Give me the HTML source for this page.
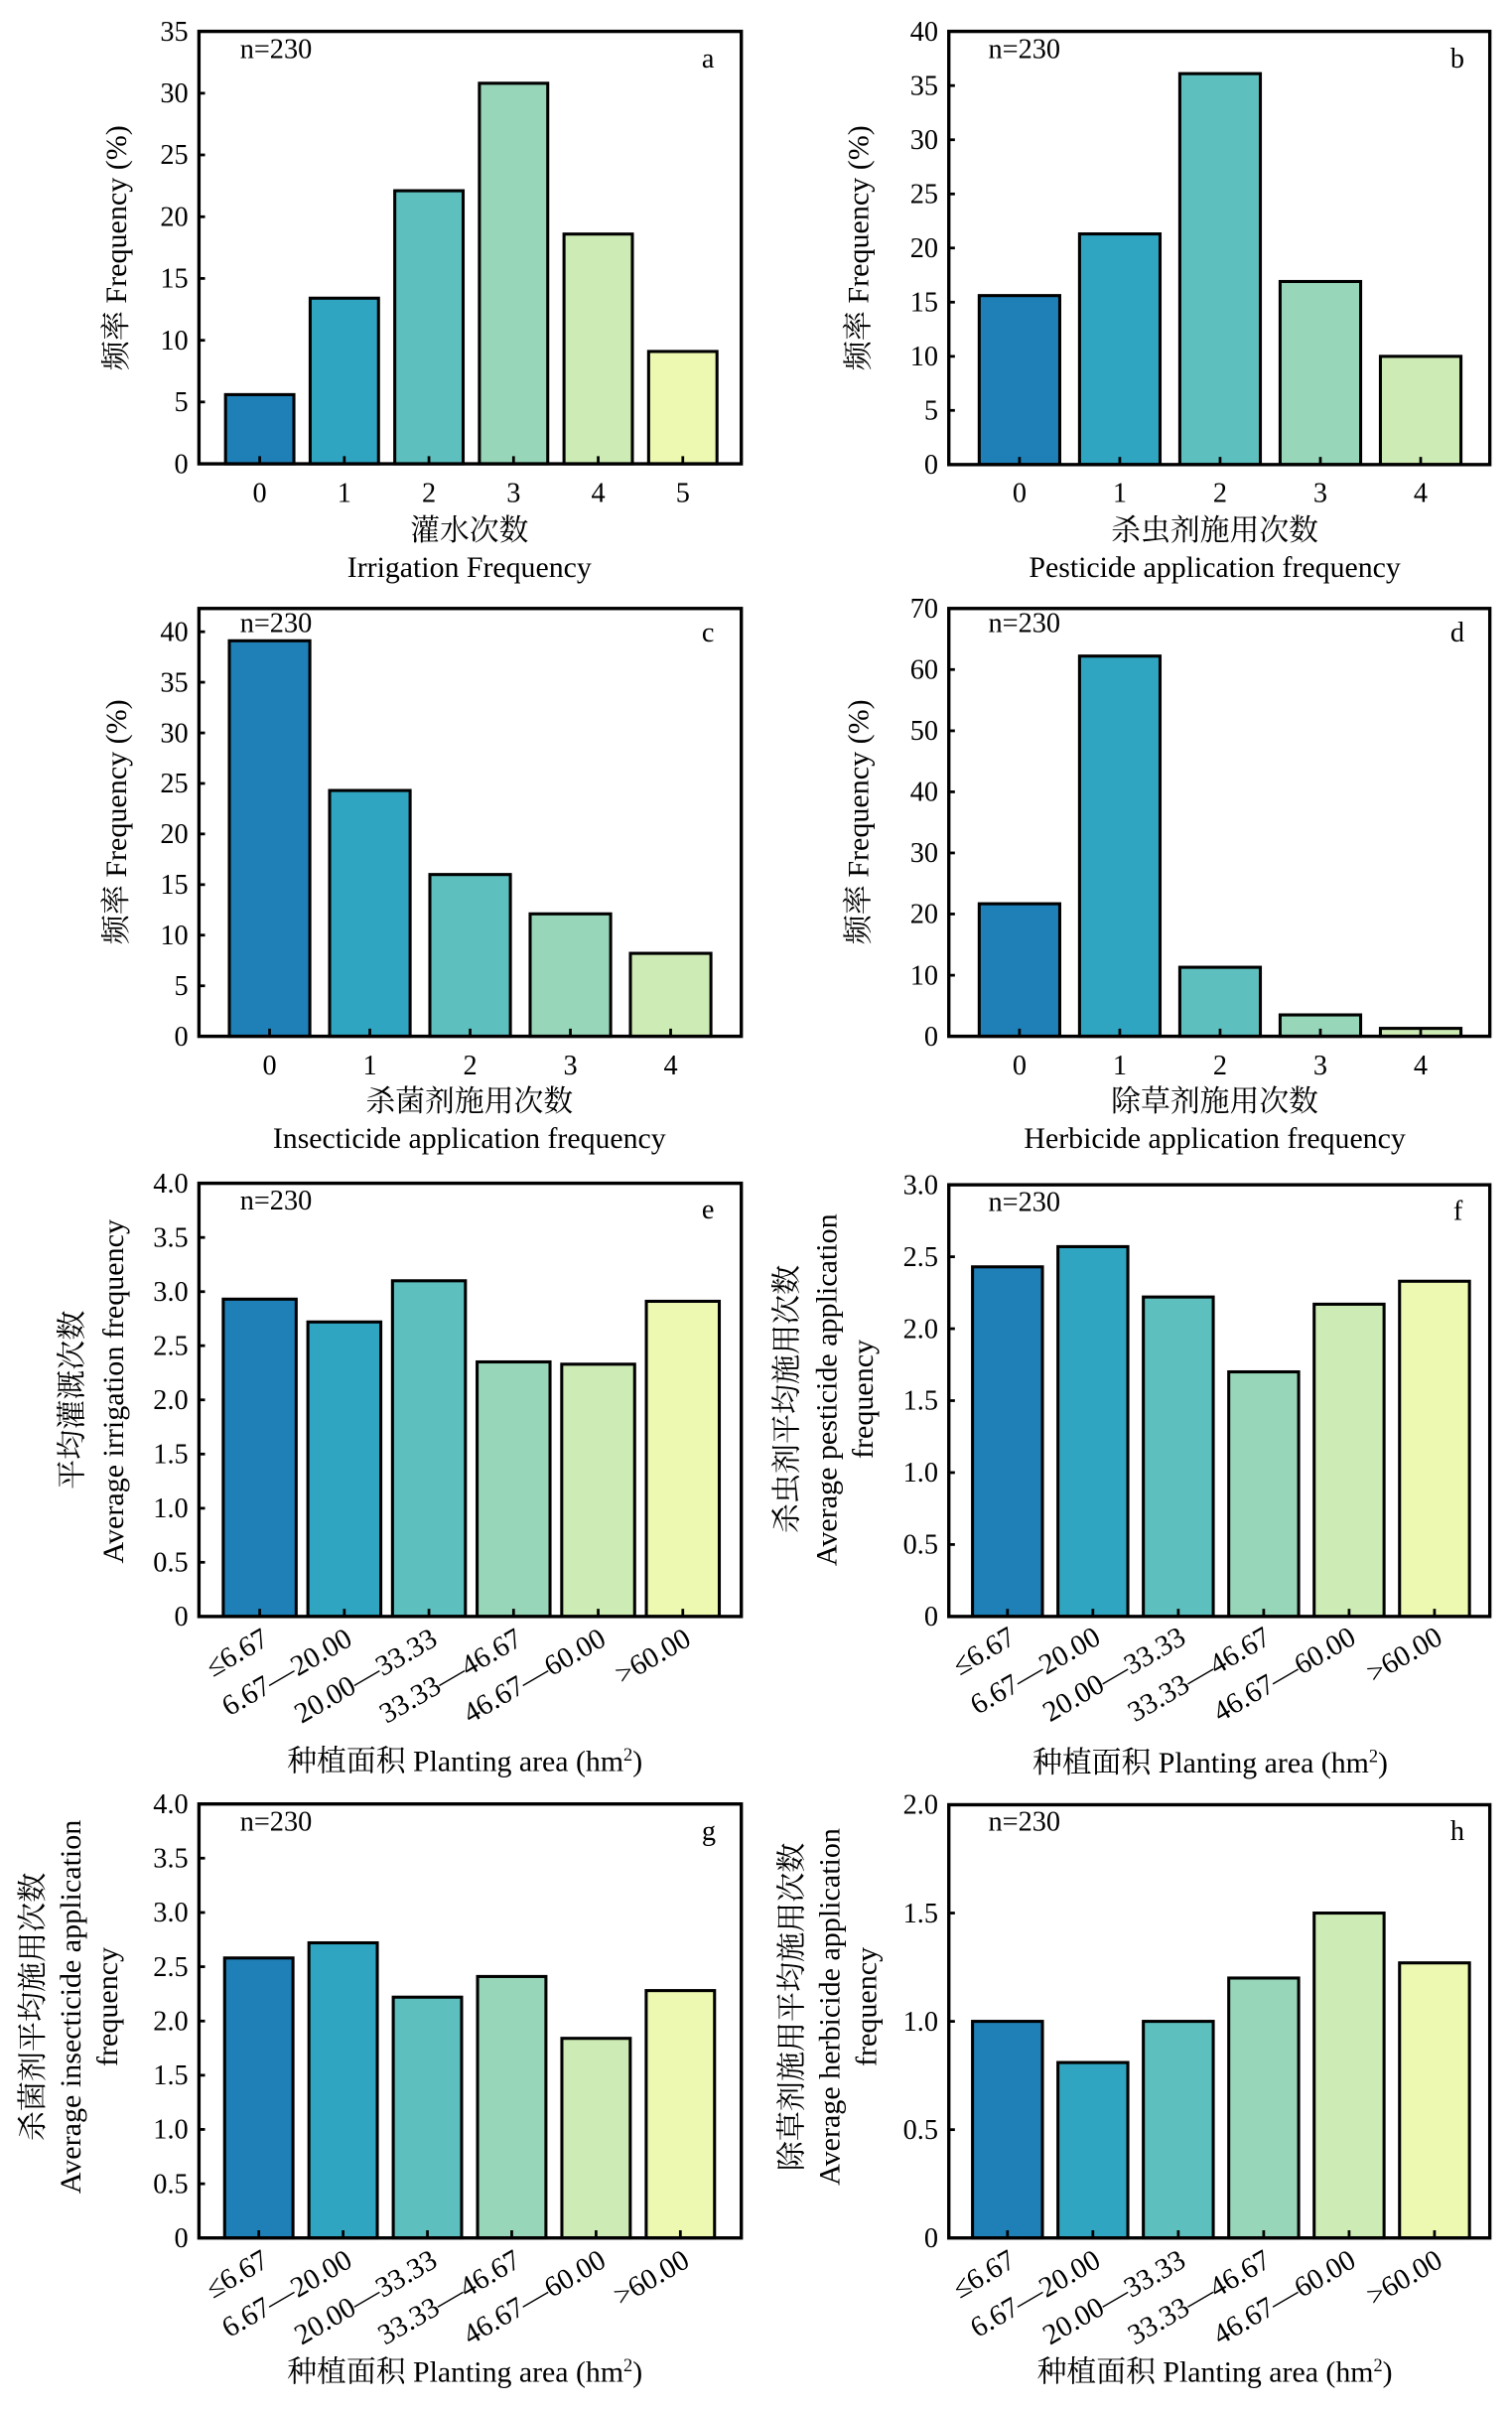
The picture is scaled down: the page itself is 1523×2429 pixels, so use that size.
<!DOCTYPE html>
<html><head><meta charset="utf-8"><style>
html,body{margin:0;padding:0;background:#fff;}
svg{display:block;}
text{font-family:"Liberation Serif","Noto Serif CJK SC","Noto Sans CJK SC",serif;fill:#000;}
.t{font-size:18.5px;}
.yt{font-size:18.5px;text-anchor:end;}
.xt{font-size:18.5px;text-anchor:middle;}
.rt{font-size:19px;text-anchor:end;}
.lb{font-size:19.5px;text-anchor:middle;}
.ax{fill:none;stroke:#000;stroke-width:2.2;}
.tk{stroke:#000;stroke-width:1.8;}
.b{stroke:#000;stroke-width:2;}
.c0{fill:#1f80b8}.c1{fill:#2fa5c1}.c2{fill:#5dbfbe}.c3{fill:#97d6b8}.c4{fill:#cdebb4}.c5{fill:#edf8b1}
</style></head><body>
<svg width="1523" height="2429" viewBox="0 0 988 1575.7" preserveAspectRatio="none" xmlns="http://www.w3.org/2000/svg">

<!-- Panel a -->
<g transform="translate(130,0) scale(0.9927,1) translate(-130,0)">
<rect class="b c0" x="147.5" y="257.8" width="45" height="45.2"/>
<rect class="b c1" x="203.2" y="194.8" width="45" height="108.2"/>
<rect class="b c2" x="258.9" y="124.6" width="45" height="178.4"/>
<rect class="b c3" x="314.6" y="54.4" width="45" height="248.6"/>
<rect class="b c4" x="370.3" y="152.9" width="45" height="150.1"/>
<rect class="b c5" x="426" y="229.6" width="45" height="73.4"/>
<rect class="ax" x="130" y="20.5" width="357" height="282.5"/>
<g class="tk"><line x1="130" x2="134" y1="262.6" y2="262.6"/><line x1="130" x2="134" y1="222.3" y2="222.3"/><line x1="130" x2="134" y1="181.9" y2="181.9"/><line x1="130" x2="134" y1="141.6" y2="141.6"/><line x1="130" x2="134" y1="101.2" y2="101.2"/><line x1="130" x2="134" y1="60.9" y2="60.9"/>
<line x1="170" x2="170" y1="303" y2="298"/><line x1="225.7" x2="225.7" y1="303" y2="298"/><line x1="281.4" x2="281.4" y1="303" y2="298"/><line x1="337.1" x2="337.1" y1="303" y2="298"/><line x1="392.8" x2="392.8" y1="303" y2="298"/><line x1="448.5" x2="448.5" y1="303" y2="298"/></g>
<text class="yt" x="123" y="309">0</text><text class="yt" x="123" y="268.6">5</text><text class="yt" x="123" y="228.3">10</text><text class="yt" x="123" y="187.9">15</text><text class="yt" x="123" y="147.6">20</text><text class="yt" x="123" y="107.2">25</text><text class="yt" x="123" y="66.9">30</text><text class="yt" x="123" y="26.5">35</text>
<text class="xt" x="170" y="328">0</text><text class="xt" x="225.7" y="328">1</text><text class="xt" x="281.4" y="328">2</text><text class="xt" x="337.1" y="328">3</text><text class="xt" x="392.8" y="328">4</text><text class="xt" x="448.5" y="328">5</text>
<text class="t" x="157" y="38">n=230</text><text class="t" x="461" y="44">a</text>
<text class="lb" x="308" y="353">灌水次数</text><text class="lb" x="308" y="377">Irrigation Frequency</text>
<text class="lb" transform="translate(82,162) rotate(-90)">频率 Frequency (%)</text>
</g>

<!-- Panel b -->
<g transform="translate(620,0) scale(0.993,1) translate(-620,0)">
<rect class="b c0" x="640" y="193.1" width="53" height="110.4"/>
<rect class="b c1" x="706" y="152.8" width="53" height="150.7"/>
<rect class="b c2" x="772" y="48.1" width="53" height="255.4"/>
<rect class="b c3" x="838" y="183.9" width="53" height="119.6"/>
<rect class="b c4" x="904" y="232.8" width="53" height="70.7"/>
<rect class="ax" x="620" y="20.5" width="356" height="283"/>
<g class="tk"><line x1="620" x2="624" y1="268.1" y2="268.1"/><line x1="620" x2="624" y1="232.8" y2="232.8"/><line x1="620" x2="624" y1="197.4" y2="197.4"/><line x1="620" x2="624" y1="162" y2="162"/><line x1="620" x2="624" y1="126.7" y2="126.7"/><line x1="620" x2="624" y1="91.3" y2="91.3"/><line x1="620" x2="624" y1="55.9" y2="55.9"/>
<line x1="666.5" x2="666.5" y1="303.5" y2="298.5"/><line x1="732.5" x2="732.5" y1="303.5" y2="298.5"/><line x1="798.5" x2="798.5" y1="303.5" y2="298.5"/><line x1="864.5" x2="864.5" y1="303.5" y2="298.5"/><line x1="930.5" x2="930.5" y1="303.5" y2="298.5"/></g>
<text class="yt" x="613" y="309.5">0</text><text class="yt" x="613" y="274.1">5</text><text class="yt" x="613" y="238.8">10</text><text class="yt" x="613" y="203.4">15</text><text class="yt" x="613" y="168">20</text><text class="yt" x="613" y="132.7">25</text><text class="yt" x="613" y="97.3">30</text><text class="yt" x="613" y="61.9">35</text><text class="yt" x="613" y="26.5">40</text>
<text class="xt" x="666.5" y="328">0</text><text class="xt" x="732.5" y="328">1</text><text class="xt" x="798.5" y="328">2</text><text class="xt" x="864.5" y="328">3</text><text class="xt" x="930.5" y="328">4</text>
<text class="t" x="646" y="38">n=230</text><text class="t" x="950" y="44">b</text>
<text class="lb" x="795" y="353">杀虫剂施用次数</text><text class="lb" x="795" y="377">Pesticide application frequency</text>
<text class="lb" transform="translate(567,162) rotate(-90)">频率 Frequency (%)</text>
</g>

<!-- Panel c -->
<g transform="translate(130,0) scale(0.9927,1) translate(-130,0)">
<rect class="b c0" x="150" y="418.6" width="53" height="258.4"/>
<rect class="b c1" x="216" y="516.4" width="53" height="160.6"/>
<rect class="b c2" x="282" y="571.3" width="53" height="105.7"/>
<rect class="b c3" x="348" y="597" width="53" height="80"/>
<rect class="b c4" x="414" y="622.8" width="53" height="54.2"/>
<rect class="ax" x="130" y="397.5" width="357" height="279.5"/>
<g class="tk"><line x1="130" x2="134" y1="644" y2="644"/><line x1="130" x2="134" y1="610.9" y2="610.9"/><line x1="130" x2="134" y1="577.9" y2="577.9"/><line x1="130" x2="134" y1="544.8" y2="544.8"/><line x1="130" x2="134" y1="511.8" y2="511.8"/><line x1="130" x2="134" y1="478.8" y2="478.8"/><line x1="130" x2="134" y1="445.7" y2="445.7"/><line x1="130" x2="134" y1="412.7" y2="412.7"/>
<line x1="176.5" x2="176.5" y1="677" y2="672"/><line x1="242.5" x2="242.5" y1="677" y2="672"/><line x1="308.5" x2="308.5" y1="677" y2="672"/><line x1="374.5" x2="374.5" y1="677" y2="672"/><line x1="440.5" x2="440.5" y1="677" y2="672"/></g>
<text class="yt" x="123" y="683">0</text><text class="yt" x="123" y="650">5</text><text class="yt" x="123" y="616.9">10</text><text class="yt" x="123" y="583.9">15</text><text class="yt" x="123" y="550.8">20</text><text class="yt" x="123" y="517.8">25</text><text class="yt" x="123" y="484.8">30</text><text class="yt" x="123" y="451.7">35</text><text class="yt" x="123" y="418.7">40</text>
<text class="xt" x="176.5" y="702">0</text><text class="xt" x="242.5" y="702">1</text><text class="xt" x="308.5" y="702">2</text><text class="xt" x="374.5" y="702">3</text><text class="xt" x="440.5" y="702">4</text>
<text class="t" x="157" y="413">n=230</text><text class="t" x="461" y="419">c</text>
<text class="lb" x="308" y="726">杀菌剂施用次数</text><text class="lb" x="308" y="750">Insecticide application frequency</text>
<text class="lb" transform="translate(82,537) rotate(-90)">频率 Frequency (%)</text>
</g>

<!-- Panel d -->
<g transform="translate(620,0) scale(0.993,1) translate(-620,0)">
<rect class="b c0" x="640" y="590.4" width="53" height="86.6"/>
<rect class="b c1" x="706" y="428.6" width="53" height="248.4"/>
<rect class="b c2" x="772" y="631.9" width="53" height="45.1"/>
<rect class="b c3" x="838" y="663" width="53" height="14"/>
<rect class="b c4" x="904" y="671.8" width="53" height="5.2"/>
<rect class="ax" x="620" y="397.5" width="356" height="279.5"/>
<g class="tk"><line x1="620" x2="624" y1="637.1" y2="637.1"/><line x1="620" x2="624" y1="597.1" y2="597.1"/><line x1="620" x2="624" y1="557.2" y2="557.2"/><line x1="620" x2="624" y1="517.3" y2="517.3"/><line x1="620" x2="624" y1="477.4" y2="477.4"/><line x1="620" x2="624" y1="437.4" y2="437.4"/>
<line x1="666.5" x2="666.5" y1="677" y2="672"/><line x1="732.5" x2="732.5" y1="677" y2="672"/><line x1="798.5" x2="798.5" y1="677" y2="672"/><line x1="864.5" x2="864.5" y1="677" y2="672"/><line x1="930.5" x2="930.5" y1="677" y2="672"/></g>
<text class="yt" x="613" y="683">0</text><text class="yt" x="613" y="643.1">10</text><text class="yt" x="613" y="603.1">20</text><text class="yt" x="613" y="563.2">30</text><text class="yt" x="613" y="523.3">40</text><text class="yt" x="613" y="483.4">50</text><text class="yt" x="613" y="443.4">60</text><text class="yt" x="613" y="403.5">70</text>
<text class="xt" x="666.5" y="702">0</text><text class="xt" x="732.5" y="702">1</text><text class="xt" x="798.5" y="702">2</text><text class="xt" x="864.5" y="702">3</text><text class="xt" x="930.5" y="702">4</text>
<text class="t" x="646" y="413">n=230</text><text class="t" x="950" y="419">d</text>
<text class="lb" x="795" y="726">除草剂施用次数</text><text class="lb" x="795" y="750">Herbicide application frequency</text>
<text class="lb" transform="translate(567,537) rotate(-90)">频率 Frequency (%)</text>
</g>

<!-- Panel e -->
<g transform="translate(130,0) scale(0.9927,1) translate(-130,0)">
<rect class="b c0" x="146" y="848.7" width="48" height="207.3"/>
<rect class="b c1" x="201.7" y="863.6" width="48" height="192.4"/>
<rect class="b c2" x="257.4" y="836.7" width="48" height="219.3"/>
<rect class="b c3" x="313.1" y="889.7" width="48" height="166.3"/>
<rect class="b c4" x="368.8" y="891.2" width="48" height="164.8"/>
<rect class="b c5" x="424.5" y="850.1" width="48" height="205.9"/>
<rect class="ax" x="130" y="773" width="357" height="283"/>
<g class="tk"><line x1="130" x2="134" y1="1020.6" y2="1020.6"/><line x1="130" x2="134" y1="985.3" y2="985.3"/><line x1="130" x2="134" y1="949.9" y2="949.9"/><line x1="130" x2="134" y1="914.5" y2="914.5"/><line x1="130" x2="134" y1="879.1" y2="879.1"/><line x1="130" x2="134" y1="843.8" y2="843.8"/><line x1="130" x2="134" y1="808.4" y2="808.4"/>
<line x1="170" x2="170" y1="1056" y2="1051"/><line x1="225.7" x2="225.7" y1="1056" y2="1051"/><line x1="281.4" x2="281.4" y1="1056" y2="1051"/><line x1="337.1" x2="337.1" y1="1056" y2="1051"/><line x1="392.8" x2="392.8" y1="1056" y2="1051"/><line x1="448.5" x2="448.5" y1="1056" y2="1051"/></g>
<text class="yt" x="123" y="1062">0</text><text class="yt" x="123" y="1026.6">0.5</text><text class="yt" x="123" y="991.3">1.0</text><text class="yt" x="123" y="955.9">1.5</text><text class="yt" x="123" y="920.5">2.0</text><text class="yt" x="123" y="885.1">2.5</text><text class="yt" x="123" y="849.8">3.0</text><text class="yt" x="123" y="814.4">3.5</text><text class="yt" x="123" y="779">4.0</text>
<text class="rt" transform="translate(177,1074) rotate(-30)">≤6.67</text>
<text class="rt" transform="translate(232,1074) rotate(-30)">6.67—20.00</text>
<text class="rt" transform="translate(288,1074) rotate(-30)">20.00—33.33</text>
<text class="rt" transform="translate(344,1074) rotate(-30)">33.33—46.67</text>
<text class="rt" transform="translate(399,1074) rotate(-30)">46.67—60.00</text>
<text class="rt" transform="translate(455,1074) rotate(-30)">&gt;60.00</text>
<text class="t" x="157" y="790">n=230</text><text class="t" x="461" y="796">e</text>
<text class="lb" x="305" y="1157">种植面积 Planting area (hm<tspan dy="-7" font-size="12">2</tspan><tspan dy="7">)</tspan></text>
<text class="lb" transform="translate(53,914.5) rotate(-90)">平均灌溉次数</text>
<text class="lb" transform="translate(80,909) rotate(-90)">Average irrigation frequency</text>
</g>

<!-- Panel f -->
<g transform="translate(620,0) scale(0.993,1) translate(-620,0)">
<rect class="b c0" x="635.6" y="827.6" width="46" height="228.4"/>
<rect class="b c1" x="691.8" y="814.4" width="46" height="241.6"/>
<rect class="b c2" x="748" y="847.3" width="46" height="208.7"/>
<rect class="b c3" x="804.2" y="896.2" width="46" height="159.8"/>
<rect class="b c4" x="860.4" y="852" width="46" height="204"/>
<rect class="b c5" x="916.6" y="837" width="46" height="219"/>
<rect class="ax" x="620" y="774" width="356" height="282"/>
<g class="tk"><line x1="620" x2="624" y1="1009" y2="1009"/><line x1="620" x2="624" y1="962" y2="962"/><line x1="620" x2="624" y1="915" y2="915"/><line x1="620" x2="624" y1="868" y2="868"/><line x1="620" x2="624" y1="821" y2="821"/>
<line x1="658.6" x2="658.6" y1="1056" y2="1051"/><line x1="714.8" x2="714.8" y1="1056" y2="1051"/><line x1="771" x2="771" y1="1056" y2="1051"/><line x1="827.2" x2="827.2" y1="1056" y2="1051"/><line x1="883.4" x2="883.4" y1="1056" y2="1051"/><line x1="939.6" x2="939.6" y1="1056" y2="1051"/></g>
<text class="yt" x="613" y="1062">0</text><text class="yt" x="613" y="1015">0.5</text><text class="yt" x="613" y="968">1.0</text><text class="yt" x="613" y="921">1.5</text><text class="yt" x="613" y="874">2.0</text><text class="yt" x="613" y="827">2.5</text><text class="yt" x="613" y="780">3.0</text>
<text class="rt" transform="translate(665,1073) rotate(-30)">≤6.67</text>
<text class="rt" transform="translate(721,1073) rotate(-30)">6.67—20.00</text>
<text class="rt" transform="translate(777,1073) rotate(-30)">20.00—33.33</text>
<text class="rt" transform="translate(833,1073) rotate(-30)">33.33—46.67</text>
<text class="rt" transform="translate(889,1073) rotate(-30)">46.67—60.00</text>
<text class="rt" transform="translate(946,1073) rotate(-30)">&gt;60.00</text>
<text class="t" x="646" y="791">n=230</text><text class="t" x="952" y="797">f</text>
<text class="lb" x="792" y="1158">种植面积 Planting area (hm<tspan dy="-7" font-size="12">2</tspan><tspan dy="7">)</tspan></text>
<text class="lb" transform="translate(520,914) rotate(-90)">杀虫剂平均施用次数</text>
<text class="lb" transform="translate(546,908) rotate(-90)">Average pesticide application</text>
<text class="lb" transform="translate(570,914) rotate(-90)">frequency</text>
</g>

<!-- Panel g -->
<g transform="translate(130,0) scale(0.9927,1) translate(-130,0)">
<rect class="b c0" x="146.9" y="1279.1" width="45" height="182.9"/>
<rect class="b c1" x="202.4" y="1269.2" width="45" height="192.8"/>
<rect class="b c2" x="257.9" y="1304.7" width="45" height="157.3"/>
<rect class="b c3" x="313.4" y="1291.2" width="45" height="170.8"/>
<rect class="b c4" x="368.9" y="1331.6" width="45" height="130.4"/>
<rect class="b c5" x="424.4" y="1300.4" width="45" height="161.6"/>
<rect class="ax" x="130" y="1178.5" width="357" height="283.5"/>
<g class="tk"><line x1="130" x2="134" y1="1426.6" y2="1426.6"/><line x1="130" x2="134" y1="1391.1" y2="1391.1"/><line x1="130" x2="134" y1="1355.7" y2="1355.7"/><line x1="130" x2="134" y1="1320.3" y2="1320.3"/><line x1="130" x2="134" y1="1284.8" y2="1284.8"/><line x1="130" x2="134" y1="1249.4" y2="1249.4"/><line x1="130" x2="134" y1="1213.9" y2="1213.9"/>
<line x1="169.4" x2="169.4" y1="1462" y2="1457"/><line x1="224.9" x2="224.9" y1="1462" y2="1457"/><line x1="280.4" x2="280.4" y1="1462" y2="1457"/><line x1="335.9" x2="335.9" y1="1462" y2="1457"/><line x1="391.4" x2="391.4" y1="1462" y2="1457"/><line x1="446.9" x2="446.9" y1="1462" y2="1457"/></g>
<text class="yt" x="123" y="1468">0</text><text class="yt" x="123" y="1432.6">0.5</text><text class="yt" x="123" y="1397.1">1.0</text><text class="yt" x="123" y="1361.7">1.5</text><text class="yt" x="123" y="1326.3">2.0</text><text class="yt" x="123" y="1290.8">2.5</text><text class="yt" x="123" y="1255.4">3.0</text><text class="yt" x="123" y="1219.9">3.5</text><text class="yt" x="123" y="1184.5">4.0</text>
<text class="rt" transform="translate(177,1480) rotate(-30)">≤6.67</text>
<text class="rt" transform="translate(232,1480) rotate(-30)">6.67—20.00</text>
<text class="rt" transform="translate(288,1480) rotate(-30)">20.00—33.33</text>
<text class="rt" transform="translate(343,1480) rotate(-30)">33.33—46.67</text>
<text class="rt" transform="translate(399,1480) rotate(-30)">46.67—60.00</text>
<text class="rt" transform="translate(454,1480) rotate(-30)">&gt;60.00</text>
<text class="t" x="157" y="1196">n=230</text><text class="t" x="461" y="1202">g</text>
<text class="lb" x="305" y="1556">种植面积 Planting area (hm<tspan dy="-7" font-size="12">2</tspan><tspan dy="7">)</tspan></text>
<text class="lb" transform="translate(27,1311) rotate(-90)">杀菌剂平均施用次数</text>
<text class="lb" transform="translate(52,1311) rotate(-90)">Average insecticide application</text>
<text class="lb" transform="translate(76,1311) rotate(-90)">frequency</text>
</g>

<!-- Panel h -->
<g transform="translate(620,0) scale(0.993,1) translate(-620,0)">
<rect class="b c0" x="635.6" y="1320.5" width="46" height="141.5"/>
<rect class="b c1" x="691.8" y="1347.4" width="46" height="114.6"/>
<rect class="b c2" x="748" y="1320.5" width="46" height="141.5"/>
<rect class="b c3" x="804.2" y="1292.2" width="46" height="169.8"/>
<rect class="b c4" x="860.4" y="1249.75" width="46" height="212.25"/>
<rect class="b c5" x="916.6" y="1282.3" width="46" height="179.7"/>
<rect class="ax" x="620" y="1179" width="356" height="283"/>
<g class="tk"><line x1="620" x2="624" y1="1391.25" y2="1391.25"/><line x1="620" x2="624" y1="1320.5" y2="1320.5"/><line x1="620" x2="624" y1="1249.75" y2="1249.75"/>
<line x1="658.6" x2="658.6" y1="1462" y2="1457"/><line x1="714.8" x2="714.8" y1="1462" y2="1457"/><line x1="771" x2="771" y1="1462" y2="1457"/><line x1="827.2" x2="827.2" y1="1462" y2="1457"/><line x1="883.4" x2="883.4" y1="1462" y2="1457"/><line x1="939.6" x2="939.6" y1="1462" y2="1457"/></g>
<text class="yt" x="613" y="1468">0</text><text class="yt" x="613" y="1397.25">0.5</text><text class="yt" x="613" y="1326.5">1.0</text><text class="yt" x="613" y="1255.75">1.5</text><text class="yt" x="613" y="1185">2.0</text>
<text class="rt" transform="translate(665,1480) rotate(-30)">≤6.67</text>
<text class="rt" transform="translate(721,1480) rotate(-30)">6.67—20.00</text>
<text class="rt" transform="translate(777,1480) rotate(-30)">20.00—33.33</text>
<text class="rt" transform="translate(833,1480) rotate(-30)">33.33—46.67</text>
<text class="rt" transform="translate(889,1480) rotate(-30)">46.67—60.00</text>
<text class="rt" transform="translate(946,1480) rotate(-30)">&gt;60.00</text>
<text class="t" x="646" y="1196">n=230</text><text class="t" x="950" y="1202">h</text>
<text class="lb" x="795" y="1556">种植面积 Planting area (hm<tspan dy="-7" font-size="12">2</tspan><tspan dy="7">)</tspan></text>
<text class="lb" transform="translate(523,1311) rotate(-90)">除草剂施用平均施用次数</text>
<text class="lb" transform="translate(548,1311) rotate(-90)">Average herbicide application</text>
<text class="lb" transform="translate(572,1311) rotate(-90)">frequency</text>
</g>
</svg>
</body></html>
